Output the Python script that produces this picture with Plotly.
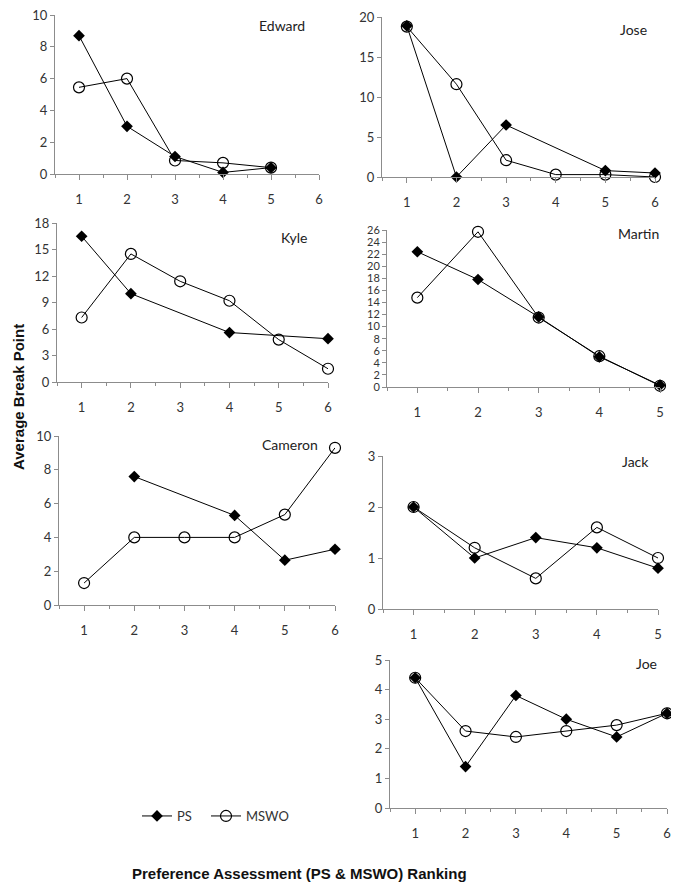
import plotly.graph_objects as go

# the page body has an 8px default margin, so the figure is drawn that much smaller
PAGE_W, PAGE_H = 679, 887
OFF = 8
W, H = PAGE_W - OFF, PAGE_H - OFF

# ranks (x) and average break points; None = no point
ranks_6 = [1, 2, 3, 4, 5, 6]
ranks_5 = [1, 2, 3, 4, 5]

edward_ps = [8.7, 3.0, 1.1, 0.1, 0.4]
edward_mswo = [5.45, 6.0, 0.85, 0.7, 0.4]

jose_ps = [18.9, 0.0, 6.5, None, 0.8, 0.5]
jose_mswo = [18.8, 11.6, 2.1, 0.3, 0.3, 0.0]

kyle_ps = [16.5, 10.0, None, 5.6, None, 4.9]
kyle_mswo = [7.3, 14.5, 11.4, 9.2, 4.8, 1.5]

martin_ps = [22.4, 17.8, 11.6, 5.0, 0.3]
martin_mswo = [14.8, 25.7, 11.5, 5.1, 0.2]

cameron_ps = [None, 7.6, None, 5.3, 2.65, 3.3]
cameron_mswo = [1.3, 4.0, 4.0, 4.0, 5.35, 9.3]

jack_ps = [2.0, 1.0, 1.4, 1.2, 0.8]
jack_mswo = [2.0, 1.2, 0.6, 1.6, 1.0]

joe_ps = [4.4, 1.4, 3.8, 3.0, 2.4, 3.2]
joe_mswo = [4.4, 2.6, 2.4, 2.6, 2.8, 3.2]

# name, ranks, PS, MSWO, x max, y max, y step, tick font, plot box px (left, right, top, bottom), label pos
panels = [
    ("Edward", ranks_5, edward_ps, edward_mswo, 6, 10, 2, 13, (55, 319, 15, 174), (282, 26)),
    ("Jose", ranks_6, jose_ps, jose_mswo, 6, 20, 5, 13, (382, 655, 17, 177), (633, 29)),
    ("Kyle", ranks_6, kyle_ps, kyle_mswo, 6, 18, 3, 13, (57, 328, 223, 382), (294, 237)),
    ("Martin", ranks_5, martin_ps, martin_mswo, 5, 26, 2, 11, (387, 660, 230, 387), (638, 233)),
    ("Cameron", ranks_6, cameron_ps, cameron_mswo, 6, 10, 2, 13, (59, 335, 436, 605), (290, 444)),
    ("Jack", ranks_5, jack_ps, jack_mswo, 5, 3, 1, 13, (383, 658, 456, 609), (635, 462)),
    ("Joe", ranks_6, joe_ps, joe_mswo, 6, 5, 1, 13, (390, 667, 660, 808), (646, 663)),
]

FONT = "Lato, Open Sans, sans-serif"
AXIS_GREY = "#8c8c8c"
TEXT_GREY = "#333333"


def px_x(v):
    return (v - OFF) / W


def px_y(v):
    return 1 - (v - OFF) / H


def label(text, x, y, size, color, family, angle=0):
    return {
        "text": text, "x": px_x(x), "y": px_y(y),
        "xref": "paper", "yref": "paper", "xanchor": "center", "yanchor": "middle",
        "showarrow": False, "textangle": angle,
        "font": {"size": size, "color": color, "family": family},
    }


def legend_box(x):
    return {
        "x": px_x(x), "y": px_y(816), "xanchor": "left", "yanchor": "middle",
        "font": {"size": 13, "color": TEXT_GREY, "family": FONT},
        "bgcolor": "rgba(0,0,0,0)", "itemwidth": 30,
    }


fig = go.Figure()
annotations = []

for i, (name, ranks, ps, mswo, xmax, ymax, ystep, fsize, box, pos) in enumerate(panels):
    n = "" if i == 0 else str(i + 1)
    left, right, top, bottom = box

    fig.add_trace(go.Scatter(
        x=ranks, y=ps, name="PS", mode="lines+markers", connectgaps=True,
        line={"color": "black", "width": 1},
        marker={"symbol": "diamond", "size": 9, "color": "black"},
        cliponaxis=False, showlegend=(i == 0), legend="legend",
        xaxis="x" + n, yaxis="y" + n,
    ))
    fig.add_trace(go.Scatter(
        x=ranks, y=mswo, name="MSWO", mode="lines+markers", connectgaps=True,
        line={"color": "black", "width": 1},
        marker={"symbol": "circle-open", "size": 11, "color": "black", "line": {"width": 1.2}},
        cliponaxis=False, showlegend=(i == 0), legend="legend2",
        xaxis="x" + n, yaxis="y" + n,
    ))

    fig.update_layout({
        "xaxis" + n: {
            "domain": [px_x(left), px_x(right)],
            "anchor": "y" + n,
            "range": [0.5, xmax],
            "tickvals": list(range(1, xmax + 1)),
            "showgrid": False, "zeroline": False,
            "showline": True, "linecolor": AXIS_GREY, "linewidth": 1,
            "ticks": "outside", "ticklen": 5, "tickcolor": AXIS_GREY,
            "ticklabelstandoff": 8, "ticklabeloverflow": "allow",
            "minor": {"dtick": 0.5, "tick0": 0.5, "ticks": "outside", "ticklen": 3,
                      "tickcolor": AXIS_GREY, "showgrid": False},
            "tickfont": {"size": 13, "color": TEXT_GREY, "family": FONT},
        },
        "yaxis" + n: {
            "domain": [px_y(bottom), px_y(top)],
            "anchor": "x" + n,
            "range": [0, ymax],
            "dtick": ystep, "tick0": 0,
            "showgrid": False, "zeroline": False,
            "showline": True, "linecolor": AXIS_GREY, "linewidth": 1,
            "ticks": "outside", "ticklen": 4, "tickcolor": AXIS_GREY,
            "ticklabeloverflow": "allow",
            "tickfont": {"size": fsize, "color": TEXT_GREY, "family": FONT},
        },
    })

    annotations.append(label(name, pos[0], pos[1], 14, "#222222", FONT))

annotations.append(label("<b>Average Break Point</b>", 18, 397, 15, "#111111",
                         "Liberation Sans, Arial, sans-serif", angle=-90))
annotations.append(label("<b>Preference Assessment (PS &amp; MSWO) Ranking</b>", 299, 873, 15, "#111111",
                         "Liberation Sans, Arial, sans-serif"))

fig.update_layout(
    width=W, height=H,
    margin={"l": 0, "r": 0, "t": 0, "b": 0, "autoexpand": False},
    paper_bgcolor="white", plot_bgcolor="white",
    annotations=annotations,
    showlegend=True,
    legend=legend_box(137),
    legend2=legend_box(206),
)

fig.write_html("out.html")
